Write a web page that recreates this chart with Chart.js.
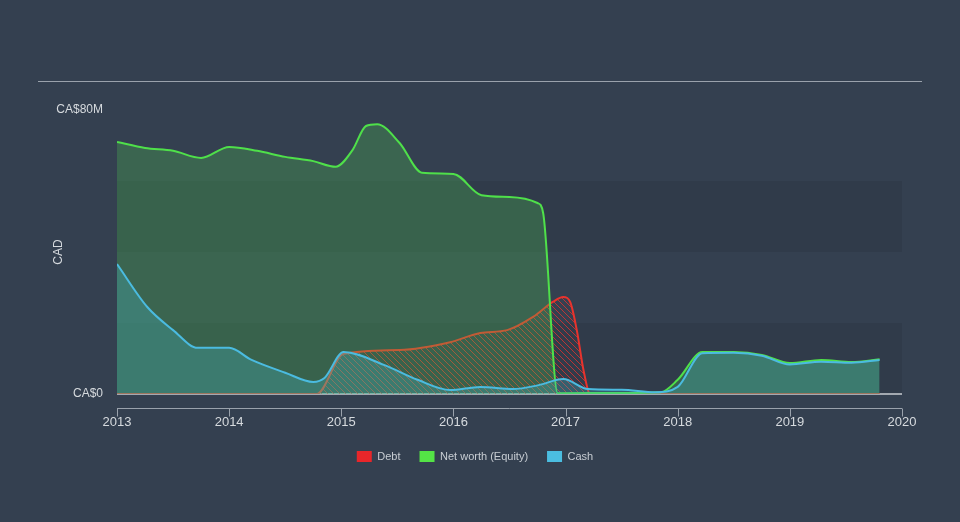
<!DOCTYPE html>
<html>
<head>
<meta charset="utf-8">
<script src="https://cdn.jsdelivr.net/npm/chart.js@4/dist/chart.umd.min.js"></script>
<style>
  html, body { margin: 0; padding: 0; background: #344050; }
  #wrap { width: 960px; height: 522px; position: relative; }
</style>
</head>
<body>
<div id="wrap"><canvas id="chart"></canvas></div>
<script>
// values in CA$ millions, x in fractional years
var debtYears = [2013, 2014.78, 2015.02, 2015.52, 2015.97, 2016.24, 2016.48, 2016.71, 2016.89, 2016.98, 2017.04, 2017.1, 2017.16, 2017.22, 2019.8];
var debtValues = [0, 0, 11.3, 12.4, 14.6, 17.2, 18, 21.7, 26, 27.3, 26, 18, 6.7, 0, 0];

var equityYears = [2013, 2013.25, 2013.5, 2013.75, 2014, 2014.25, 2014.5, 2014.75, 2014.95, 2015.1, 2015.22, 2015.32, 2015.52, 2015.72, 2016, 2016.25, 2016.5, 2016.75, 2016.8, 2016.93, 2017.5, 2017.85, 2018, 2018.22, 2018.5, 2018.75, 2019, 2019.28, 2019.55, 2019.8];
var equityValues = [71, 69.3, 68.5, 66.5, 69.6, 68.5, 66.8, 65.6, 64, 68.7, 75.5, 76, 70.7, 62.3, 62, 56, 55.5, 53.8, 51, 0.2, 0.3, 0.5, 4, 11.8, 11.8, 11, 8.7, 9.6, 9.0, 9.8];

var cashYears = [2013, 2013.27, 2013.5, 2013.72, 2014, 2014.2, 2014.5, 2014.75, 2014.85, 2015.02, 2015.38, 2015.68, 2015.97, 2016.24, 2016.53, 2016.76, 2016.98, 2017.2, 2017.5, 2017.8, 2018, 2018.22, 2018.5, 2018.75, 2019, 2019.28, 2019.55, 2019.8];
var cashValues = [36.6, 24.5, 18, 13, 13, 9.6, 6, 3.4, 4.5, 11.8, 8.2, 4, 1.1, 2, 1.4, 2.5, 4.2, 1.4, 1.2, 0.5, 2, 11.5, 11.6, 10.8, 8.3, 9.1, 8.8, 9.6];

var xTicks = [2013, 2014, 2015, 2016, 2017, 2018, 2019, 2020];
var yTicks = [0, 80];

function pts(xs, ys) {
  return xs.map(function (x, i) { return { x: x, y: ys[i] }; });
}

// diagonal hatch for the debt area
function hatch() {
  var c = document.createElement("canvas");
  c.width = 6; c.height = 6;
  var g = c.getContext("2d");
  g.strokeStyle = "rgba(232,50,45,0.75)";
  g.lineWidth = 1;
  g.beginPath();
  g.moveTo(0, 0); g.lineTo(6, 6);
  g.moveTo(-3, 3); g.lineTo(3, 9);
  g.moveTo(3, -3); g.lineTo(9, 3);
  g.stroke();
  return g.createPattern(c, "repeat");
}

var decor = {
  id: "decor",
  beforeDatasetsDraw: function (chart) {
    var ctx = chart.ctx, y = chart.scales.y, a = chart.chartArea;
    ctx.save();
    ctx.fillStyle = "rgba(0,0,0,0.07)";
    [[0, 20], [40, 60]].forEach(function (b) {
      var t = y.getPixelForValue(b[1]), bt = y.getPixelForValue(b[0]);
      ctx.fillRect(a.left, t, a.right - a.left, bt - t);
    });
    // zero line
    ctx.strokeStyle = "#c8ccd2";
    ctx.lineWidth = 1.5;
    ctx.beginPath();
    ctx.moveTo(a.left, y.getPixelForValue(0));
    ctx.lineTo(a.right, y.getPixelForValue(0));
    ctx.stroke();
    ctx.restore();
  },
  afterDraw: function (chart) {
    var ctx = chart.ctx, x = chart.scales.x, a = chart.chartArea;
    ctx.save();
    ctx.strokeStyle = "#9aa2ac";
    ctx.lineWidth = 1;
    ctx.beginPath();
    ctx.moveTo(38, 81.5); ctx.lineTo(922, 81.5);
    ctx.stroke();
    // x axis line with ticks below chart
    var ay = a.bottom + 14.5;
    ctx.beginPath();
    ctx.moveTo(a.left, ay); ctx.lineTo(a.right, ay);
    xTicks.forEach(function (t) {
      var px = Math.round(x.getPixelForValue(t)) + 0.5;
      ctx.moveTo(px, ay); ctx.lineTo(px, ay + 8);
    });
    ctx.stroke();
    ctx.restore();
  }
};

var ctx = document.getElementById("chart").getContext("2d");
var chart = new Chart(ctx, {
  type: "line",
  data: {
    datasets: [
      {
        label: "Debt",
        data: pts(debtYears, debtValues),
        borderColor: "#e8332d",
        backgroundColor: hatch(),
        borderWidth: 2,
        fill: "origin",
        pointRadius: 0,
        cubicInterpolationMode: "monotone",
        order: 3
      },
      {
        label: "Net worth (Equity)",
        data: pts(equityYears, equityValues),
        borderColor: "#4fe04a",
        backgroundColor: "rgba(80,210,80,0.26)",
        borderWidth: 2,
        fill: "origin",
        pointRadius: 0,
        cubicInterpolationMode: "monotone",
        order: 2
      },
      {
        label: "Cash",
        data: pts(cashYears, cashValues),
        borderColor: "#4bbbe0",
        backgroundColor: "rgba(70,185,200,0.28)",
        borderWidth: 2,
        fill: "origin",
        pointRadius: 0,
        cubicInterpolationMode: "monotone",
        order: 1
      }
    ]
  },
  options: {
    responsive: true,
    maintainAspectRatio: false,
    animation: false,
    layout: { padding: { left: 48, right: 58, top: 110, bottom: 50 } },
    plugins: {
      tooltip: { enabled: false },
      legend: {
        position: "bottom",
        labels: {
          sort: function (a, b) { return a.datasetIndex - b.datasetIndex; },
          boxWidth: 15,
          boxHeight: 11,
          padding: 19,
          color: "#c8cdd3",
          font: { family: "'Liberation Sans', Arial, sans-serif", size: 11 },
          generateLabels: function (chart) {
            var cols = ["#e8262a", "#54e346", "#4bbde0"];
            return chart.data.datasets.map(function (d, i) {
              return { text: d.label, fillStyle: cols[i], strokeStyle: cols[i], lineWidth: 0, datasetIndex: i, fontColor: "#c8cdd3" };
            });
          }
        }
      }
    },
    scales: {
      x: {
        type: "linear",
        min: 2013,
        max: 2020,
        afterBuildTicks: function (s) { s.ticks = xTicks.map(function (v) { return { value: v }; }); },
        afterFit: function (s) { s.height = 38; },
        grid: { display: false },
        border: { display: false },
        ticks: {
          padding: 13,
          color: "#d6dade",
          font: { family: "'Liberation Sans', Arial, sans-serif", size: 13 },
          callback: function (v) { return String(v); },
          maxRotation: 0
        }
      },
      y: {
        min: 0,
        max: 80,
        afterBuildTicks: function (s) { s.ticks = yTicks.map(function (v) { return { value: v }; }); },
        afterFit: function (s) { s.width = 69; },
        grid: { display: false, drawTicks: false },
        border: { display: false },
        title: {
          display: true,
          text: "CAD",
          color: "#d6dade",
          padding: { top: 3, bottom: 0 },
          font: { family: "'Liberation Sans', Arial, sans-serif", size: 12 }
        },
        ticks: {
          padding: 14,
          color: "#d6dade",
          font: { family: "'Liberation Sans', Arial, sans-serif", size: 12 },
          callback: function (v) { return v === 0 ? "CA$0" : "CA$80M"; }
        }
      }
    }
  },
  plugins: [decor]
});
</script>
</body>
</html>
